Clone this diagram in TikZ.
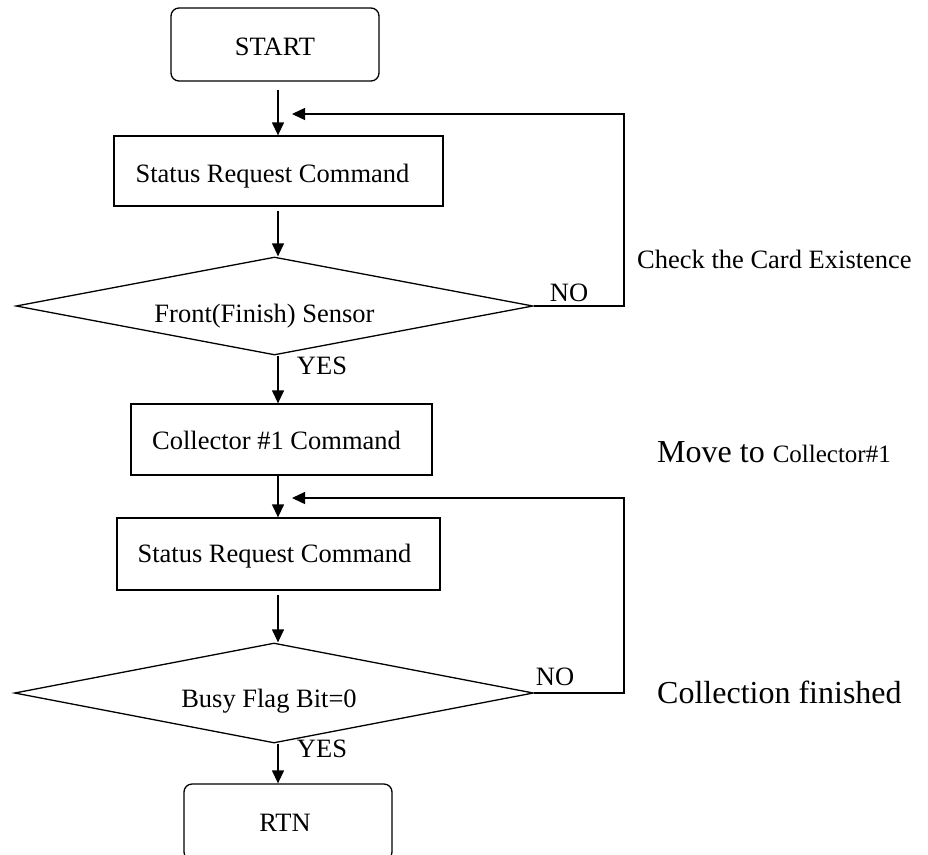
\documentclass[tikz,border=0pt]{standalone}
\usepackage{fontspec}
\setmainfont{Liberation Serif}
\usetikzlibrary{shapes.geometric,arrows.meta}
\newcommand{\blt}[2]{\raisebox{-#1}[0pt][0pt]{#2}}
\tikzset{
  lw/.style={line width=1.3pt},
  arr/.style={lw,-{Triangle[length=13pt,width=12pt]}},
  term/.style={draw,lw,rounded corners=8pt,inner sep=0pt,font=\fontsize{26.5}{30}\selectfont},
  proc/.style={draw,lw,inner sep=0pt,font=\fontsize{26.5}{30}\selectfont},
  deci/.style={draw,lw,diamond,aspect=5.3,inner sep=0pt,font=\fontsize{26.5}{30}\selectfont},
  lbl/.style={inner sep=0pt,font=\fontsize{26.5}{30}\selectfont},
  big/.style={inner sep=0pt,font=\fontsize{32}{36}\selectfont},
}
\begin{document}
\begin{tikzpicture}[x=1pt,y=-1pt]
\useasboundingbox (0,0) rectangle (928,854);
\coordinate (ax) at (278,0);
% nodes
\node[term,minimum width=208pt,minimum height=73pt] (start) at (275,44.5) {\blt{10.5pt}{START}};
\node[proc,minimum width=329pt,minimum height=70pt] (box1) at (278.5,171) {\blt{11pt}{\hspace*{-12pt}Status Request Command}};
\node[deci,minimum width=517pt,minimum height=98pt] (d1) at (274.5,306) {\blt{16pt}{\hspace*{-20pt}Front(Finish) Sensor}};
\node[proc,minimum width=301pt,minimum height=71pt] (box2) at (281.5,439.5) {\blt{9.5pt}{\hspace*{-10pt}Collector \#1 Command}};
\node[proc,minimum width=323pt,minimum height=72pt] (box3) at (278.5,554) {\blt{8pt}{\hspace*{-8pt}Status Request Command}};
\node[deci,minimum width=519pt,minimum height=100pt] (d2) at (274,693) {\blt{14pt}{\hspace*{-10pt}Busy Flag Bit=0}};
\node[term,minimum width=208pt,minimum height=76pt] (rtn) at (288,822) {\blt{9pt}{\hspace*{-6pt}RTN}};
% labels
\node[lbl] (no1) at (569,293) {NO};
\node[lbl] (yes1) at (322,366) {YES};
\node[lbl] (no2) at (555,677) {NO};
\node[lbl] (yes2) at (322,749) {YES};
\node[lbl,anchor=west] (note1) at (637,259) {Check the Card Existence};
\node[big,anchor=west] (note2) at (657,452) {Move to {\fontsize{25}{30}\selectfont Collector\#1}};
\node[big,anchor=west] (note3) at (657,692) {Collection finished};
% connectors
\coordinate (r1) at (624,114);
\coordinate (t1) at (292,114);
\coordinate (r2) at (624,498);
\coordinate (t2) at (292,498);
\draw[arr] ([yshift=-8pt]start.south -| ax) -- (box1.north -| ax);
\draw[arr] ([yshift=-4pt]box1.south -| ax) -- (d1.north -| ax);
\draw[arr] (d1.south -| ax) -- (box2.north -| ax);
\draw[arr] (box2.south -| ax) -- (box3.north -| ax);
\draw[arr] ([yshift=-4pt]box3.south -| ax) -- (d2.north -| ax);
\draw[arr] (d2.south -| ax) -- (rtn.north -| ax);
\draw[arr] (d1.east) -- (d1.east -| r1) -- (r1) -- (t1);
\draw[arr] (d2.east) -- (d2.east -| r2) -- (r2) -- (t2);
\end{tikzpicture}
\end{document}
